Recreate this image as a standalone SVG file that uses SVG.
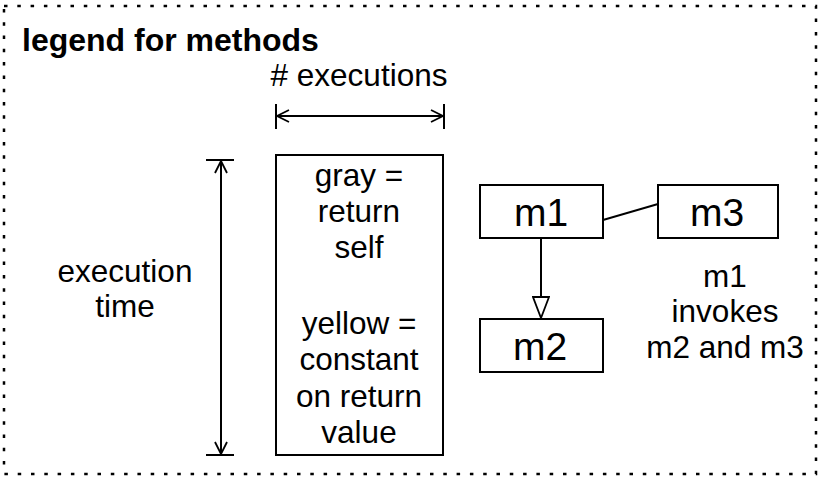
<svg xmlns="http://www.w3.org/2000/svg" width="822" height="480" viewBox="0 0 822 480">
<style>
text{font-family:"Liberation Sans",Arial,sans-serif;fill:#000;text-anchor:middle}
.t{font-size:31.5px}
.n{font-size:39px}
.b{fill:#fff;stroke:#000;stroke-width:2}
.l{stroke:#000;stroke-width:2;fill:none}
</style>
<defs>
<marker id="oa" viewBox="0 0 14 14" refX="13" refY="7" markerWidth="14" markerHeight="14" markerUnits="userSpaceOnUse" orient="auto-start-reverse"><path d="M1,1 L13,7 L1,13" fill="none" stroke="#000" stroke-width="1.8"/></marker>
<marker id="tri" viewBox="0 0 24 18" refX="22" refY="9" markerWidth="24" markerHeight="18" markerUnits="userSpaceOnUse" orient="auto"><path d="M1,1 L22,9 L1,17 Z" fill="#fff" stroke="#000" stroke-width="1.8"/></marker>
</defs>
<rect x="4" y="6" width="812" height="468" fill="#fff" stroke="#000" stroke-width="2.5" stroke-dasharray="3.5 9.8"/>
<text x="22" y="51" style="font-size:32px;font-weight:bold;text-anchor:start">legend for methods</text>
<g id="executions-legend">
<text class="t" x="359" y="86"># executions</text>
<line class="l" x1="276" y1="104" x2="276" y2="129"/>
<line class="l" x1="444" y1="104" x2="444" y2="129"/>
<line class="l" x1="277" y1="116" x2="443" y2="116" marker-start="url(#oa)" marker-end="url(#oa)"/>
</g>
<g id="time-legend">
<text class="t" x="125" y="282">execution</text>
<text class="t" x="125" y="317">time</text>
<line class="l" x1="206" y1="160" x2="234" y2="160"/>
<line class="l" x1="206" y1="455" x2="234" y2="455"/>
<line class="l" x1="221" y1="161" x2="221" y2="454" marker-start="url(#oa)" marker-end="url(#oa)"/>
</g>
<g id="method-box">
<rect class="b" x="276" y="155" width="167" height="300"/>
<text class="t" x="359" y="186">gray =</text>
<text class="t" x="359" y="222">return</text>
<text class="t" x="359" y="258">self</text>
<text class="t" x="359" y="334">yellow =</text>
<text class="t" x="359" y="370">constant</text>
<text class="t" x="359" y="407">on return</text>
<text class="t" x="359" y="443">value</text>
</g>
<g id="connectors">
<line class="l" x1="603" y1="220" x2="658" y2="204"/>
<line class="l" x1="541" y1="238" x2="541" y2="318" marker-end="url(#tri)"/>
</g>
<g id="m1">
<rect class="b" x="480" y="185" width="123" height="53"/>
<text class="n" x="541" y="226">m1</text>
</g>
<g id="m3">
<rect class="b" x="658" y="185" width="120" height="53"/>
<text class="n" x="717" y="226">m3</text>
</g>
<g id="m2">
<rect class="b" x="480" y="319" width="123" height="53"/>
<text class="n" x="540" y="360">m2</text>
</g>
<g id="note">
<text class="t" x="725" y="287">m1</text>
<text class="t" x="725" y="322">invokes</text>
<text class="t" x="725" y="358">m2 and m3</text>
</g>
</svg>
